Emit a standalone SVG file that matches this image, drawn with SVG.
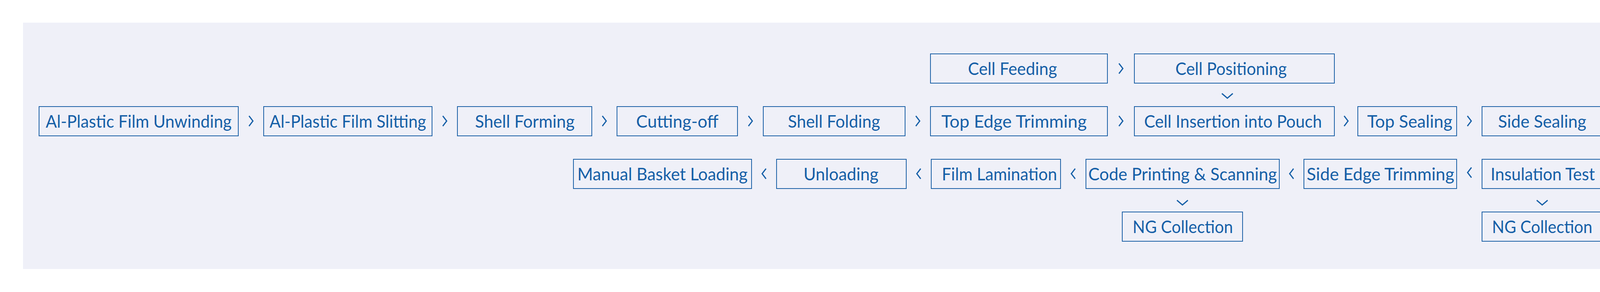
<svg xmlns="http://www.w3.org/2000/svg" width="4214" height="748" viewBox="0 0 4214 748">
<style>
.bg{fill:#eff0f8}
.box{fill:none;stroke:#1b60a6;stroke-width:2}
.lbl{font-family:Lato,"Noto Sans",sans-serif;font-size:45px;fill:#155fa7;text-anchor:middle}
.chev{fill:none;stroke:#155fa7;stroke-width:3;stroke-linecap:butt;stroke-linejoin:miter}
</style>
<defs>
<path id="cr" d="M-5 -13 L5 0 L-5 13"/>
<path id="cl" d="M5 -13 L-5 0 L5 13"/>
<path id="cd" d="M-14 -6 L0 6 L14 -6"/>
</defs>
<rect class="bg" x="59" y="58" width="4096" height="631"/>

<g id="n-cell-feeding"><rect class="box" x="2382" y="138" width="453" height="75"/><text class="lbl" x="2592" y="192" textLength="228" lengthAdjust="spacingAndGlyphs">Cell Feeding</text></g>
<g id="n-cell-positioning"><rect class="box" x="2904" y="138" width="512" height="75"/><text class="lbl" x="3151.5" y="192" textLength="285" lengthAdjust="spacingAndGlyphs">Cell Positioning</text></g>

<g id="n-unwinding"><rect class="box" x="100" y="273" width="510" height="75"/><text class="lbl" x="355" y="327" textLength="476" lengthAdjust="spacingAndGlyphs">Al-Plastic Film Unwinding</text></g>
<g id="n-slitting"><rect class="box" x="675" y="273" width="431" height="75"/><text class="lbl" x="890.5" y="327" textLength="401" lengthAdjust="spacingAndGlyphs">Al-Plastic Film Slitting</text></g>
<g id="n-shell-forming"><rect class="box" x="1171" y="273" width="344" height="75"/><text class="lbl" x="1343.5" y="327" textLength="255" lengthAdjust="spacingAndGlyphs">Shell Forming</text></g>
<g id="n-cutting-off"><rect class="box" x="1579.5" y="273" width="308.5" height="75"/><text class="lbl" x="1734" y="327" textLength="211" lengthAdjust="spacingAndGlyphs">Cutting-off</text></g>
<g id="n-shell-folding"><rect class="box" x="1954" y="273" width="363" height="75"/><text class="lbl" x="2135" y="327" textLength="236" lengthAdjust="spacingAndGlyphs">Shell Folding</text></g>
<g id="n-top-edge-trimming"><rect class="box" x="2382" y="273" width="453" height="75"/><text class="lbl" x="2596" y="327" textLength="372" lengthAdjust="spacingAndGlyphs">Top Edge Trimming</text></g>
<g id="n-cell-insertion"><rect class="box" x="2904" y="273" width="512" height="75"/><text class="lbl" x="3156.5" y="327" textLength="455" lengthAdjust="spacingAndGlyphs">Cell Insertion into Pouch</text></g>
<g id="n-top-sealing"><rect class="box" x="3476" y="273" width="253" height="75"/><text class="lbl" x="3609" y="327" textLength="218" lengthAdjust="spacingAndGlyphs">Top Sealing</text></g>
<g id="n-side-sealing"><rect class="box" x="3794" y="273" width="309" height="75"/><text class="lbl" x="3948" y="327" textLength="226" lengthAdjust="spacingAndGlyphs">Side Sealing</text></g>

<g id="n-manual-basket"><rect class="box" x="1468" y="408" width="456" height="75"/><text class="lbl" x="1696" y="462" textLength="436" lengthAdjust="spacingAndGlyphs">Manual Basket Loading</text></g>
<g id="n-unloading"><rect class="box" x="1988" y="408" width="332" height="75"/><text class="lbl" x="2153" y="462" textLength="192" lengthAdjust="spacingAndGlyphs">Unloading</text></g>
<g id="n-film-lamination"><rect class="box" x="2384" y="408" width="331" height="75"/><text class="lbl" x="2558.5" y="462" textLength="295" lengthAdjust="spacingAndGlyphs">Film Lamination</text></g>
<g id="n-code-printing"><rect class="box" x="2780" y="408" width="495" height="75"/><text class="lbl" x="3027.5" y="462" textLength="483" lengthAdjust="spacingAndGlyphs">Code Printing &amp; Scanning</text></g>
<g id="n-side-edge-trimming"><rect class="box" x="3338" y="408" width="391" height="75"/><text class="lbl" x="3534" y="462" textLength="378" lengthAdjust="spacingAndGlyphs">Side Edge Trimming</text></g>
<g id="n-insulation-test"><rect class="box" x="3794" y="408" width="309" height="75"/><text class="lbl" x="3949.5" y="462" textLength="267" lengthAdjust="spacingAndGlyphs">Insulation Test</text></g>

<g id="n-ng-1"><rect class="box" x="2873" y="543" width="308" height="75"/><text class="lbl" x="3028" y="597" textLength="257" lengthAdjust="spacingAndGlyphs">NG Collection</text></g>
<g id="n-ng-2"><rect class="box" x="3794" y="543" width="309" height="75"/><text class="lbl" x="3948" y="597" textLength="257" lengthAdjust="spacingAndGlyphs">NG Collection</text></g>

<g id="connectors" class="chev">
<use href="#cr" x="2869.5" y="175.5"/>
<use href="#cr" x="642.5" y="310"/>
<use href="#cr" x="1138.5" y="310"/>
<use href="#cr" x="1547" y="310"/>
<use href="#cr" x="1921" y="310"/>
<use href="#cr" x="2349.5" y="310"/>
<use href="#cr" x="2869.5" y="310"/>
<use href="#cr" x="3446" y="310"/>
<use href="#cr" x="3761.5" y="310"/>
<use href="#cl" x="1956" y="445"/>
<use href="#cl" x="2352" y="445"/>
<use href="#cl" x="2747.5" y="445"/>
<use href="#cl" x="3306.5" y="445"/>
<use href="#cl" x="3762" y="442"/>
<use href="#cd" x="3142" y="245.5"/>
<use href="#cd" x="3027" y="519"/>
<use href="#cd" x="3948" y="519"/>
</g>
</svg>
